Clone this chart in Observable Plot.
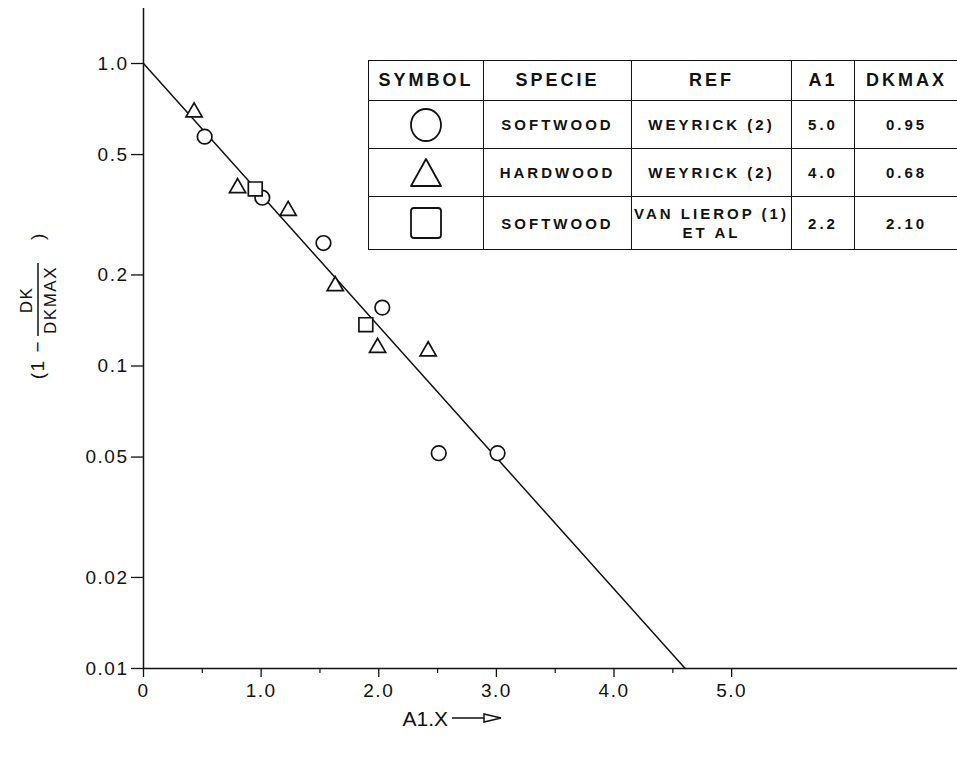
<!DOCTYPE html>
<html>
<head>
<meta charset="utf-8">
<script src="https://cdn.jsdelivr.net/npm/d3@7"></script>
<script src="https://cdn.jsdelivr.net/npm/@observablehq/plot@0.6"></script>
<style>
  html, body { margin: 0; padding: 0; background: #fff; overflow: hidden; }
  #wrap { position: relative; width: 957px; height: 758px; overflow: hidden; }
  #wrap svg text { letter-spacing: 1.5px; }
  #tbl { position: absolute; left: 368px; top: 60px; }
  #tbl table { border-collapse: collapse; table-layout: fixed; width: 590px; font-family: "Liberation Sans", Arial, sans-serif; font-weight: bold; color: #111; }
  #tbl td, #tbl th { border: 1.6px solid #111; text-align: center; padding: 0; white-space: nowrap; }
  #tbl th { font-size: 18px; height: 39px; letter-spacing: 3px; }
  #tbl td { font-size: 15px; line-height: 19px; letter-spacing: 3px; }
</style>
</head>
<body>
<div id="wrap"><div id="tbl"></div></div>
<script>
// ---- data ----
const circleX   = [0.52, 1.01, 1.53, 2.03, 2.51, 3.01];
const circleY   = [0.573, 0.36, 0.255, 0.156, 0.0515, 0.0515];
const triangleX = [0.43, 0.80, 1.23, 1.63, 1.99, 2.42];
const triangleY = [0.69, 0.388, 0.326, 0.184, 0.115, 0.112];
const squareX   = [0.95, 1.89];
const squareY   = [0.385, 0.137];
const fitX      = [0, 4.605];
const fitY      = [1.0, 0.01];

const yTicks      = [1.0, 0.5, 0.2, 0.1, 0.05, 0.02, 0.01];
const yTickLabels = ["1.0", "0.5", "0.2", "0.1", "0.05", "0.02", "0.01"];
const xTicks      = [0, 1, 2, 3, 4, 5];
const xTickLabels = ["0", "1.0", "2.0", "3.0", "4.0", "5.0"];
const xMinorTicks = [0.5, 1.5, 2.5, 3.5, 4.5];

// legend table
const tableHeaders = ["SYMBOL", "SPECIE", "REF", "A1", "DKMAX"];
const tableSymbols = ["circle", "triangle", "square"];
const tableSpecies = ["SOFTWOOD", "HARDWOOD", "SOFTWOOD"];
const tableRefs    = ["WEYRICK (2)", "WEYRICK (2)", "VAN LIEROP (1)<br>ET AL"];
const tableA1      = ["5.0", "4.0", "2.2"];
const tableDkmax   = ["0.95", "0.68", "2.10"];

const circles   = circleX.map((x, i) => ({x, y: circleY[i]}));
const triangles = triangleX.map((x, i) => ({x, y: triangleY[i]}));
const squares   = squareX.map((x, i) => ({x, y: squareY[i]}));
const fit       = fitX.map((x, i) => ({x, y: fitY[i]}));

const dotStyle = {x: "x", y: "y", stroke: "#111", fill: "white", strokeWidth: 1.7};

const chart = Plot.plot({
  width: 957,
  height: 758,
  marginLeft: 143,
  marginRight: 0,
  marginTop: 8,
  marginBottom: 90,
  style: {fontFamily: "'Liberation Sans', Arial, sans-serif", fontSize: "19px", color: "#111", background: "white", overflow: "visible"},
  x: {domain: [0, 6.92]},
  y: {type: "log", domain: [0.01, 1.52]},
  marks: [
    Plot.ruleX([0], {stroke: "#111", strokeWidth: 1.5}),
    Plot.ruleY([0.01], {stroke: "#111", strokeWidth: 1.5}),
    Plot.axisY(yTicks, {
      tickFormat: d => yTickLabels[yTicks.indexOf(d)],
      tickSize: 12, tickPadding: 3, strokeWidth: 1.3, fontSize: 19, label: null
    }),
    Plot.axisX(xTicks, {
      tickFormat: d => xTickLabels[xTicks.indexOf(d)],
      tickSize: 9, tickPadding: 6, strokeWidth: 1.3, fontSize: 19, label: null
    }),
    Plot.axisX(xMinorTicks, {tickFormat: () => "", tickSize: 5, strokeWidth: 1.2, label: null}),
    Plot.line(fit, {x: "x", y: "y", stroke: "#111", strokeWidth: 1.5}),
    Plot.dot(circles,   {...dotStyle, symbol: "circle", r: 7.3}),
    Plot.dot(triangles, {...dotStyle, symbol: "triangle", r: 6.0}),
    Plot.dot(squares,   {...dotStyle, symbol: "square", r: 7.8})
  ]
});

document.getElementById("wrap").prepend(chart);

// y-axis label: (1 - DK/DKMAX), rotated
const svg = d3.select(chart);
const yl = svg.append("g")
  .attr("transform", "translate(37,300) rotate(-90)")
  .attr("font-family", "'Liberation Sans', Arial, sans-serif")
  .attr("fill", "#111");
yl.append("text").attr("x", -40).attr("y", 0).attr("text-anchor", "end")
  .attr("dominant-baseline", "central").attr("font-size", 19).text("(1 \u2212");
yl.append("text").attr("x", 0).attr("y", -11).attr("text-anchor", "middle")
  .attr("dominant-baseline", "central").attr("font-size", 17).text("DK");
yl.append("line").attr("x1", -36).attr("x2", 37).attr("y1", 1).attr("y2", 1)
  .attr("stroke", "#111").attr("stroke-width", 1.5);
yl.append("text").attr("x", 0).attr("y", 13).attr("text-anchor", "middle")
  .attr("dominant-baseline", "central").attr("font-size", 17).text("DKMAX");
yl.append("text").attr("x", 64).attr("y", 0).attr("text-anchor", "middle")
  .attr("dominant-baseline", "central").attr("font-size", 19).text(")");

// x-axis label with arrow
const xl = svg.append("g").attr("fill", "#111");
xl.append("text").attr("x", 448).attr("y", 718).attr("text-anchor", "end")
  .attr("dominant-baseline", "central")
  .attr("font-family", "'Liberation Sans Narrow', 'Liberation Sans', Arial, sans-serif")
  .attr("font-size", 21).style("letter-spacing", "0px").text("A1.X");
xl.append("line").attr("x1", 452).attr("x2", 488).attr("y1", 718).attr("y2", 718)
  .attr("stroke", "#111").attr("stroke-width", 1.5);
xl.append("path").attr("d", "M484,714 L501,718 L484,722 Z").attr("fill", "white")
  .attr("stroke", "#111").attr("stroke-width", 1.5);

// legend table
function symbolSvg(kind) {
  let shape;
  if (kind === "circle") shape = '<ellipse cx="18" cy="18" rx="15" ry="16" fill="none" stroke="#111" stroke-width="1.8"/>';
  else if (kind === "triangle") shape = '<path d="M18,4 L33,31 L3,31 Z" fill="none" stroke="#111" stroke-width="1.8" stroke-linejoin="round"/>';
  else shape = '<rect x="3" y="3" width="30" height="30" rx="3" fill="none" stroke="#111" stroke-width="1.8"/>';
  return '<svg width="36" height="36" style="display:block;margin:auto">' + shape + '</svg>';
}
const colWidths = [115, 148, 160, 63, 104];
let html = '<table><colgroup>' + colWidths.map(w => `<col style="width:${w}px">`).join('') + '</colgroup>';
html += '<tr>' + tableHeaders.map(h => `<th>${h}</th>`).join('') + '</tr>';
const rowHeights = [48, 48, 53];
tableSymbols.forEach((s, i) => {
  html += `<tr style="height:${rowHeights[i]}px"><td>${symbolSvg(s)}</td><td>${tableSpecies[i]}</td><td>${tableRefs[i]}</td><td>${tableA1[i]}</td><td>${tableDkmax[i]}</td></tr>`;
});
html += '</table>';
document.getElementById("tbl").innerHTML = html;
</script>
</body>
</html>
